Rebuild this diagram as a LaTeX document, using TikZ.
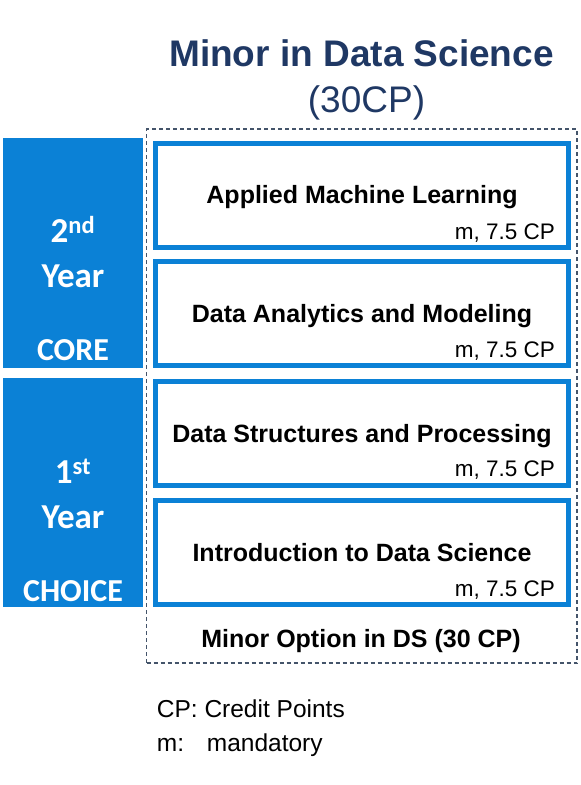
\documentclass[tikz,border=0pt]{standalone}
\usepackage{fontspec}
\setmainfont{Liberation Sans}
\newfontfamily\calfont{Carlito}
\definecolor{yearblue}{RGB}{11,129,214}
\definecolor{titlenavy}{RGB}{31,56,100}
\definecolor{framegray}{RGB}{68,84,106}
\tikzset{
  yearbox/.style={fill=yearblue, draw=none, inner sep=0pt, minimum width=140pt},
  coursebox/.style={draw=yearblue, line width=5pt, fill=white, inner sep=0pt, minimum width=413pt, minimum height=104pt},
  coursetitle/.style={anchor=base, inner sep=0pt, font=\fontsize{25}{30}\selectfont\bfseries},
  credit/.style={anchor=base east, inner sep=0pt, font=\fontsize{22.5}{27}\selectfont},
  yeartext/.style={anchor=base, inner sep=0pt, text=white, font=\calfont\fontsize{35}{42}\selectfont\bfseries},
  kindtext/.style={anchor=base, inner sep=0pt, text=white, font=\calfont\fontsize{32}{38}\selectfont\bfseries},
  legend/.style={anchor=base west, inner sep=0pt, font=\fontsize{24.5}{29}\selectfont},
}
\begin{document}
\begin{tikzpicture}[x=1pt, y=-1pt]
\useasboundingbox (0,0) rectangle (581,785);
\fill[white] (0,0) rectangle (581,785);

% title
\node[anchor=base, inner sep=0pt, text=titlenavy, font=\fontsize{37}{44}\selectfont\bfseries] (title) at (361.5,66) {Minor in Data Science};
\node[anchor=base, inner sep=0pt, text=titlenavy, font=\fontsize{37}{44}\selectfont] (subtitle) at (366.5,112) {(30CP)};

% dashed frame
\node[draw=framegray, line width=1.2pt, dash pattern=on 4pt off 3pt, inner sep=0pt, minimum width=430.5pt, minimum height=534pt] (frame) at (361.75,396) {};

% year boxes
\node[yearbox, minimum height=230pt] (y2box) at (73,253) {};
\node[yearbox, minimum height=229pt] (y1box) at (73,492.5) {};

\node[yeartext] (y2num) at (73,242.7) {2\textsuperscript{nd}};
\node[yeartext] (y2year) at (73,287) {Year};
\node[kindtext] (y2kind) at (73,360) {CORE};

\node[yeartext] (y1num) at (73,483.3) {1\textsuperscript{st}};
\node[yeartext] (y1year) at (73,528) {Year};
\node[kindtext] (y1kind) at (73,601.7) {CHOICE};

% course boxes
\node[coursebox] (c1) at (362,195) {};
\node[coursebox] (c2) at (362,313.5) {};
\node[coursebox] (c3) at (362,433) {};
\node[coursebox] (c4) at (362,552.5) {};

\node[coursetitle] (t1) at (362,203) {Applied Machine Learning};
\node[coursetitle] (t2) at (362,322.7) {Data Analytics and Modeling};
\node[coursetitle] (t3) at (362,442) {Data Structures and Processing};
\node[coursetitle] (t4) at (362,561.7) {Introduction to Data Science};

\node[credit] (m1) at (555,239) {m, 7.5 CP};
\node[credit] (m2) at (555,357) {m, 7.5 CP};
\node[credit] (m3) at (555,476) {m, 7.5 CP};
\node[credit] (m4) at (555,596) {m, 7.5 CP};

\node[coursetitle] (option) at (361,647) {Minor Option in DS (30 CP)};

% legend
\node[legend] (leg1) at (156.7,717) {CP: Credit Points};
\node[legend] (leg2) at (156.7,751) {\makebox[50pt][l]{m:}mandatory};
\end{tikzpicture}
\end{document}
